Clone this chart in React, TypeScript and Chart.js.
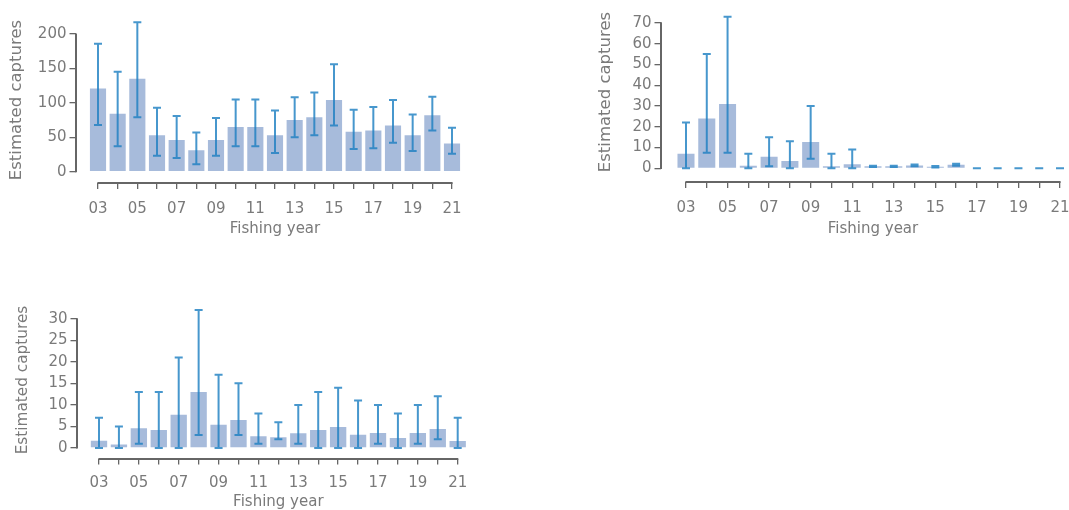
import React, { useEffect, useRef } from 'react';
import { Chart, registerables } from 'chart.js';

Chart.register(...registerables);

// ---------- data ----------
const categories = ['03', '04', '05', '06', '07', '08', '09', '10', '11', '12', '13', '14', '15', '16', '17', '18', '19', '20', '21'];
const xTickLabels = ['03', '05', '07', '09', '11', '13', '15', '17', '19', '21'];

const p1Values = [121, 84, 135, 53, 46, 31, 46, 65, 65, 53, 75, 79, 104, 58, 60, 67, 53, 82, 41];
const p1Lower = [68, 37, 79, 23, 20, 11, 23, 37, 37, 27, 50, 53, 67, 33, 34, 42, 30, 60, 26];
const p1Upper = [186, 145, 217, 93, 81, 57, 78, 105, 105, 89, 108, 115, 156, 90, 94, 104, 83, 109, 64];
const p1YTicks = [0, 50, 100, 150, 200];

const p2Values = [7, 24, 31, 1.2, 5.6, 3.5, 12.7, 1, 2, 1, 1, 1.4, 0.8, 1.7, 0, 0, 0, 0, 0];
const p2Lower = [0, 7.5, 7.5, 0, 1, 0, 4.6, 0, 0, 0.6, 0.6, 1, 0.4, 1.2, 0, 0, 0, 0, 0];
const p2Upper = [22, 55, 73, 7, 15, 13, 30, 7, 9, 1.2, 1.2, 1.8, 1.1, 2.2, 0, 0, 0, 0, 0];
const p2YTicks = [0, 10, 20, 30, 40, 50, 60, 70];

const p3Values = [1.7, 0.8, 4.6, 4.2, 7.7, 13, 5.4, 6.5, 2.7, 2.5, 3.4, 4.2, 4.9, 3.1, 3.5, 2.3, 3.5, 4.4, 1.6];
const p3Lower = [0, 0, 1, 0, 0, 3, 0, 3, 1, 2, 1, 0, 0, 0, 1, 0, 1, 2, 0];
const p3Upper = [7, 5, 13, 13, 21, 32, 17, 15, 8, 6, 10, 13, 14, 11, 10, 8, 10, 12, 7];
const p3YTicks = [0, 5, 10, 15, 20, 25, 30];

// ---------- styles ----------
const FONT = "'DejaVu Sans', sans-serif";
const TEXT = '#7a7a7a';
const AXIS = '#666666';
const BAR = 'rgba(120,150,200,0.65)';
const ERR = 'rgba(31,128,194,0.82)';

interface PanelCfg {
  values: number[];
  lower: number[];
  upper: number[];
  yTicks: number[];
  axisX: number;
  firstTickX: number;
  lastTickX: number;
  top: number;
  bottom: number;
  yMin: number;
  yMax: number;
  labelY: number;
  titleY: number;
  yTitleX: number;
  yTitleSize: number;
}

const panels: PanelCfg[] = [
  {
    values: p1Values, lower: p1Lower, upper: p1Upper, yTicks: p1YTicks,
    axisX: 75.5, firstTickX: 98, lastTickX: 452, top: 17, bottom: 183, yMin: -16.4, yMax: 224.7,
    labelY: 209, titleY: 229.5, yTitleX: 17, yTitleSize: 16.5,
  },
  {
    values: p2Values, lower: p2Lower, upper: p2Upper, yTicks: p2YTicks,
    axisX: 660.5, firstTickX: 686, lastTickX: 1060, top: 2, bottom: 182, yMin: -6.6, yMax: 80.1,
    labelY: 208.3, titleY: 229, yTitleX: 605.5, yTitleSize: 16.5,
  },
  {
    values: p3Values, lower: p3Lower, upper: p3Upper, yTicks: p3YTicks,
    axisX: 76.5, firstTickX: 99, lastTickX: 457.7, top: 301.5, bottom: 458.5, yMin: -2.44, yMax: 34,
    labelY: 483, titleY: 502, yTitleX: 23.5, yTitleSize: 15.3,
  },
];

const TICK_LEN = 6;
const TICK_FONT = 15;
const XTITLE_FONT = 15;

function geom(c: PanelCfg) {
  const years = categories.map(Number);
  const n = years.length;
  const spacing = (c.lastTickX - c.firstTickX) / (n - 1);
  const gap = c.firstTickX - c.axisX;
  const right = c.lastTickX + gap;
  const left = Math.floor(c.axisX - 75);
  const wy = c.axisX - left;
  const top = Math.floor(c.top - 16);
  const padTop = c.top - top;
  const width = Math.ceil(right + 10 - left);
  const padRight = left + width - right;
  const titleLh = XTITLE_FONT * 1.2;
  const height = Math.ceil(c.titleY + titleLh / 2 + 2 - top);
  const hx = top + height - c.bottom;
  const titlePb = top + height - c.titleY - titleLh / 2;
  const xPad = c.labelY - c.bottom - TICK_LEN - (TICK_FONT * 1.2) / 2;
  const yTitlePt = c.yTitleX - left - (c.yTitleSize * 1.2) / 2;
  const xMin = years[0] - gap / spacing;
  const xMax = years[n - 1] + gap / spacing;
  return { years, left, top, width, height, wy, padTop, padRight, hx, titlePb, xPad, yTitlePt, xMin, xMax };
}

function Panel({ cfg }: { cfg: PanelCfg }) {
  const ref = useRef<HTMLCanvasElement>(null);
  const g = geom(cfg);

  useEffect(() => {
    if (!ref.current) return;
    const years = g.years;

    const errorBars = {
      id: 'errorBars',
      afterDatasetsDraw(chart: any) {
        const { ctx, scales } = chart;
        const x = scales.x;
        const y = scales.y;
        ctx.save();
        ctx.strokeStyle = ERR;
        ctx.lineWidth = 2;
        const cap = 4;
        years.forEach((yr, i) => {
          const px = x.getPixelForValue(yr);
          const lo = y.getPixelForValue(cfg.lower[i]);
          const hi = y.getPixelForValue(cfg.upper[i]);
          ctx.beginPath();
          ctx.moveTo(px, lo);
          ctx.lineTo(px, hi);
          ctx.moveTo(px - cap, hi);
          ctx.lineTo(px + cap, hi);
          ctx.moveTo(px - cap, lo);
          ctx.lineTo(px + cap, lo);
          ctx.stroke();
        });
        ctx.restore();
      },
    };

    const axisLines = {
      id: 'axisLines',
      afterDraw(chart: any) {
        const { ctx, scales } = chart;
        const x = scales.x;
        const y = scales.y;
        const yt = cfg.yTicks;
        ctx.save();
        ctx.strokeStyle = AXIS;
        ctx.lineWidth = 2;
        ctx.lineCap = 'butt';
        const ax = Math.round(y.right);
        ctx.beginPath();
        ctx.moveTo(ax, y.getPixelForValue(yt[0]) + 0.6);
        ctx.lineTo(ax, y.getPixelForValue(yt[yt.length - 1]) - 0.6);
        ctx.stroke();
        const by = Math.round(x.top);
        ctx.beginPath();
        ctx.moveTo(x.getPixelForValue(years[0]) - 0.6, by);
        ctx.lineTo(x.getPixelForValue(years[years.length - 1]) + 0.6, by);
        ctx.stroke();
        ctx.restore();
      },
    };

    const chart = new Chart(ref.current, {
      type: 'bar',
      data: {
        datasets: [
          {
            data: categories.map((c, i) => ({ x: Number(c), y: cfg.values[i] })),
            backgroundColor: BAR,
            borderWidth: 0,
            barPercentage: 0.82,
            categoryPercentage: 1,
          },
        ],
      },
      options: {
        responsive: false,
        animation: false,
        devicePixelRatio: 1,
        layout: { padding: { top: g.padTop, right: g.padRight, left: 0, bottom: 0 } },
        plugins: { legend: { display: false }, tooltip: { enabled: false } },
        scales: {
          x: {
            type: 'linear',
            min: g.xMin,
            max: g.xMax,
            offset: false,
            afterBuildTicks: (s: any) => {
              s.ticks = years.map((v) => ({ value: v }));
            },
            afterFit: (s: any) => {
              s.height = g.hx;
            },
            ticks: {
              autoSkip: false,
              maxRotation: 0,
              minRotation: 0,
              padding: g.xPad,
              color: TEXT,
              font: { family: FONT, size: TICK_FONT },
              callback: (v: any) => {
                const lab = String(v).padStart(2, '0');
                return xTickLabels.includes(lab) ? lab : '';
              },
            },
            grid: {
              display: true,
              offset: false,
              drawOnChartArea: false,
              drawTicks: true,
              tickLength: TICK_LEN,
              color: AXIS,
              lineWidth: 1.3,
            },
            border: { display: false },
            title: {
              display: true,
              text: 'Fishing year',
              color: TEXT,
              font: { family: FONT, size: XTITLE_FONT },
              padding: { top: 0, bottom: g.titlePb },
            },
          },
          y: {
            type: 'linear',
            min: cfg.yMin,
            max: cfg.yMax,
            afterBuildTicks: (s: any) => {
              s.ticks = cfg.yTicks.map((v) => ({ value: v }));
            },
            afterFit: (s: any) => {
              s.width = g.wy;
            },
            ticks: {
              padding: 3,
              color: TEXT,
              font: { family: FONT, size: TICK_FONT },
            },
            grid: {
              display: true,
              drawOnChartArea: false,
              drawTicks: true,
              tickLength: TICK_LEN,
              color: AXIS,
              lineWidth: 1.3,
            },
            border: { display: false },
            title: {
              display: true,
              text: 'Estimated captures',
              color: TEXT,
              font: { family: FONT, size: cfg.yTitleSize },
              padding: { top: g.yTitlePt, bottom: 0 },
            },
          },
        },
      } as any,
      plugins: [errorBars, axisLines],
    });
    return () => chart.destroy();
  }, []);

  return (
    <canvas
      ref={ref}
      width={g.width}
      height={g.height}
      style={{ position: 'absolute', left: g.left, top: g.top, width: g.width, height: g.height }}
    />
  );
}

export default function App() {
  return (
    <div
      style={{
        position: 'fixed',
        left: 0,
        top: 0,
        width: 1069,
        height: 510,
        overflow: 'hidden',
        background: '#ffffff',
      }}
    >
      {panels.map((p, i) => (
        <Panel key={i} cfg={p} />
      ))}
    </div>
  );
}
